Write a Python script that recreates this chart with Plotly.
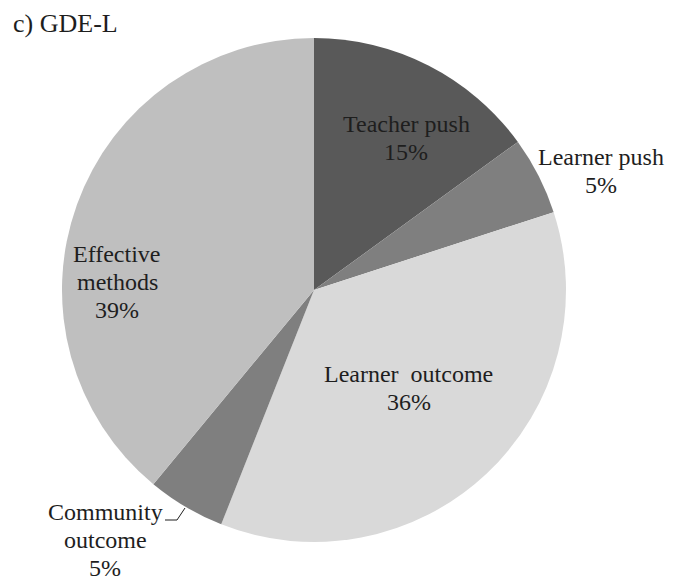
import plotly.graph_objects as go

# Category shares (percent), clockwise from 12 o'clock
categories = ["Teacher push", "Learner push", "Learner outcome", "Community outcome", "Effective methods"]
shares = [15, 5, 36, 5, 39]
label_lines = [["Teacher push"], ["Learner push"], ["Learner  outcome"], ["Community", "outcome"], ["Effective", "methods"]]
slice_colors = ["#595959", "#7f7f7f", "#d9d9d9", "#7f7f7f", "#bfbfbf"]

W, H = 673, 580
CX, CY, R = 314, 290, 252
SERIF = "Liberation Serif"
LINE_GAP = 28


def px(x):
    return x / W


def py(y):
    return 1 - y / H


fig = go.Figure(
    go.Pie(
        labels=categories,
        values=shares,
        sort=False,
        direction="clockwise",
        rotation=0,
        marker=dict(colors=slice_colors, line=dict(width=0)),
        textinfo="none",
        hoverinfo="label+percent",
        showlegend=False,
        domain=dict(x=[px(CX - R), px(CX + R)], y=[py(CY + R), py(CY - R)]),
    )
)

# label block centres (pixels); each line is its own annotation for tight spacing
label_pos = [(406, 138), (601, 171), (409, 388), (105, 540), (117, 282)]
annotations = []
for lines, v, (x, yc) in zip(label_lines, shares, label_pos):
    rows = lines + [f"{v}%"]
    y0 = yc - LINE_GAP * (len(rows) - 1) / 2
    for i, row in enumerate(rows):
        annotations.append(dict(x=px(x), y=py(y0 + i * LINE_GAP), xref="paper", yref="paper",
                                text=row, showarrow=False, align="center",
                                xanchor="center", yanchor="middle",
                                font=dict(family=SERIF, size=24, color="#1e1e1e")))

annotations.append(dict(x=px(11), y=py(23), xref="paper", yref="paper", text="c) GDE-L",
                        showarrow=False, xanchor="left", yanchor="middle",
                        font=dict(family=SERIF, size=26, color="#1e1e1e")))

# leader line for the small community slice
leader = f"M {px(165)} {py(520)} L {px(177)} {py(520)} L {px(185)} {py(508)}"

fig.update_layout(
    width=W, height=H,
    margin=dict(l=0, r=0, t=0, b=0),
    paper_bgcolor="white", plot_bgcolor="white",
    annotations=annotations,
    shapes=[dict(type="path", path=leader, xref="paper", yref="paper",
                 line=dict(color="#1e1e1e", width=1))],
)

fig.write_html("out.html")
